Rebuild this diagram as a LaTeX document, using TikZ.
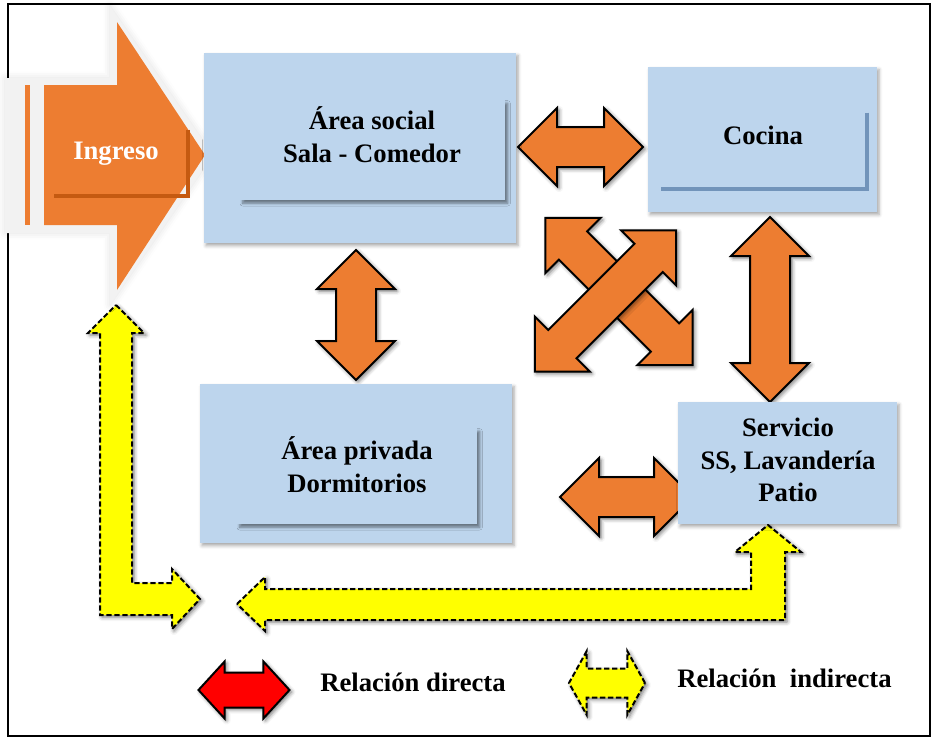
\documentclass[tikz,border=0pt]{standalone}
\usepackage{fontspec}
\setmainfont{Liberation Serif}
\usetikzlibrary{shapes.arrows, positioning, calc, backgrounds, shadows.blur}

\definecolor{zonefill}{HTML}{BDD5ED}
\definecolor{arroworange}{HTML}{ED7D31}
\definecolor{darkorange}{HTML}{C55A11}
\definecolor{edgeblue}{HTML}{7294BA}
\definecolor{paleborder}{HTML}{F2F2F2}
\definecolor{linkyellow}{HTML}{FFFF00}
\definecolor{legendred}{HTML}{FF0000}

\newcommand{\unitpx}{0.75pt}

\begin{document}
\begin{tikzpicture}[
    x=0.75pt, y=-0.75pt,
    label/.style={font=\bfseries\fontsize{20}{24.5}\selectfont, align=center, inner sep=0pt},
    boxshadow/.style={blur shadow={shadow xshift=1.5pt, shadow yshift=-2pt, shadow blur radius=2.5pt, shadow opacity=35}},
    innershadow/.style={blur shadow={shadow xshift=2pt, shadow yshift=-2.5pt, shadow blur radius=2pt, shadow opacity=45}},
    arrowshadow/.style={blur shadow={shadow xshift=1.5pt, shadow yshift=-1.5pt, shadow blur radius=3pt, shadow opacity=55}},
    zone/.style={fill=zonefill, inner sep=0pt, boxshadow},
    innerzone/.style={fill=zonefill, inner sep=0pt, innershadow},
    bigarrow/.style={double arrow, draw=black, fill=arroworange, line width=1.5pt, inner xsep=0pt, inner ysep=14.25pt, double arrow head extend=14.25pt, minimum width=57pt, arrowshadow},
    linkarrow/.style={fill=linkyellow, draw=black, line width=1.5pt, dash pattern=on 4pt off 2pt, arrowshadow}
]
\useasboundingbox (0,0) rectangle (933,739);

% Zones
\node[zone, minimum width=312*\unitpx, minimum height=190*\unitpx] (social) at (360,148) {};
\node[innerzone, minimum width=265*\unitpx, minimum height=100*\unitpx] (socialin) at (372.5,150) {};
\node[label] (sociallbl) at (372,134.5) {Área social\\Sala - Comedor};

\node[zone, minimum width=229*\unitpx, minimum height=145*\unitpx] (cocina) at (762.5,139.5) {};
\node[inner sep=0pt, minimum width=205.5*\unitpx, minimum height=75.5*\unitpx] (cocinain) at (763.75,150.75) {};
\draw[edgeblue, line width=3pt] (cocinain.north east) -- (cocinain.south east) -- (cocinain.south west);
\node[label, anchor=base] (cocinalbl) at (763,144) {Cocina};

\node[zone, minimum width=312*\unitpx, minimum height=159*\unitpx] (privada) at (356,463.5) {};
\node[innerzone, minimum width=240*\unitpx, minimum height=96*\unitpx] (privadain) at (357,476) {};
\node[label] (privadalbl) at (357,464.5) {Área privada\\Dormitorios};

\node[zone, minimum width=219*\unitpx, minimum height=122*\unitpx] (servicio) at (787.5,463) {};
\node[label] (serviciolbl) at (788,460) {Servicio\\SS, Lavandería\\Patio};

% Legend
\node[bigarrow, fill=legendred, minimum height=91*\unitpx, minimum width=55*\unitpx, inner ysep=12.375pt, double arrow head extend=8.25pt, double arrow tip angle=95] (legdirect) at (244,690) {};
\node[label, anchor=base west] (legdirectlbl) at (320,691) {Relación directa};
\node[bigarrow, fill=linkyellow, dash pattern=on 4pt off 2pt, minimum height=76*\unitpx, minimum width=62*\unitpx, inner ysep=10.125pt, double arrow head extend=13.125pt, double arrow tip angle=122] (legindirect) at (607,683) {};
\node[label, anchor=base west] (legindirectlbl) at (677,687) {Relación~~indirecta};

\begin{scope}[on background layer]
% Frame
\draw[line width=1pt] (8,4) rectangle (930,736);

% Indirect links
\draw[linkarrow] (116,305) -- (144,333) -- (132,333) -- (132,583) -- (172,583) -- (172,569) -- (200,599) -- (172,629) -- (172,615) -- (100,615) -- (100,333) -- (88,333) -- cycle;
\draw[linkarrow] (237,604) -- (265,577) -- (265,589) -- (751,589) -- (751,552) -- (735,552) -- (768,525) -- (801,552) -- (785,552) -- (785,620) -- (265,620) -- (265,631) -- cycle;

% Entrance arrow
\fill[paleborder, blur shadow={shadow xshift=0pt, shadow yshift=0pt, shadow blur radius=5pt, shadow opacity=12}] (5,78) -- (110,78) -- (110,6) -- (213,155) -- (110,305) -- (110,233) -- (5,233) -- cycle;
\fill[arroworange] (25,85) rectangle (30,225);
\fill[arroworange] (44,85) -- (117,85) -- (117,22) -- (205,155) -- (117,290) -- (117,225) -- (44,225) -- cycle;
\node[inner sep=0pt, minimum width=133.5*\unitpx, minimum height=65.5*\unitpx] (ingresobox) at (120.75,162.75) {};
\draw[darkorange, line width=3pt] (ingresobox.north east) -- (ingresobox.south east) -- (ingresobox.south west);
\node[label, text=white, anchor=base] (ingreso) at (116,159) {Ingreso};

% Direct links
\node[bigarrow, minimum height=125*\unitpx] (socialcocina) at (580.5,147) {};
\node[bigarrow, rotate=90, minimum height=130*\unitpx] (socialprivada) at (356,315) {};
\node[bigarrow, rotate=90, minimum height=185*\unitpx] (cocinaservicio) at (770,309.5) {};
\node[bigarrow, minimum height=133*\unitpx] (privadaservicio) at (626.5,497) {};
\node[bigarrow, rotate=-45, minimum height=208*\unitpx] (socialservicio) at (619,291.5) {};
\node[bigarrow, rotate=45, minimum height=200*\unitpx] (privadacocina) at (605.5,301) {};
\end{scope}

\end{tikzpicture}
\end{document}
